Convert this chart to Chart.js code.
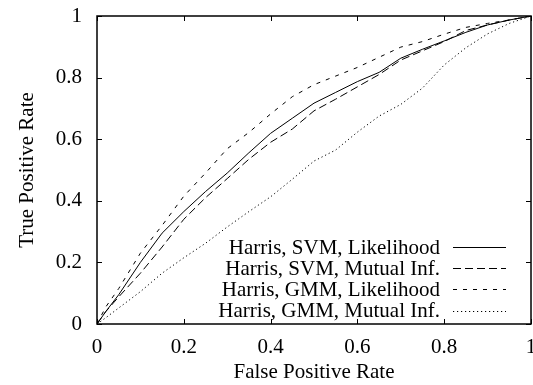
<!DOCTYPE html>
<html>
<head>
<meta charset="utf-8">
<script src="https://cdn.jsdelivr.net/npm/chart.js@4.4.1/dist/chart.umd.min.js"></script>
<style>
html,body{margin:0;padding:0;background:#fff;}
#wrap{width:533px;height:385px;position:relative;}
</style>
</head>
<body>
<div id="wrap"><canvas id="c" width="533" height="385"></canvas></div>
<script>
// ---- data ----
const fpr = [0, 0.02, 0.05, 0.1, 0.15, 0.2, 0.25, 0.3, 0.35, 0.4, 0.45, 0.5, 0.55, 0.6, 0.65, 0.7, 0.75, 0.8, 0.85, 0.9, 0.95, 1];
const svmLikelihood = [0, 0.04, 0.095, 0.2, 0.295, 0.365, 0.43, 0.49, 0.556, 0.619, 0.668, 0.717, 0.752, 0.787, 0.817, 0.863, 0.892, 0.919, 0.947, 0.971, 0.987, 1];
const svmMutualInf = [0, 0.04, 0.088, 0.165, 0.25, 0.34, 0.41, 0.472, 0.535, 0.59, 0.633, 0.692, 0.73, 0.77, 0.81, 0.857, 0.887, 0.917, 0.953, 0.971, 0.987, 1];
const gmmLikelihood = [0, 0.055, 0.115, 0.23, 0.32, 0.415, 0.49, 0.569, 0.622, 0.682, 0.738, 0.777, 0.805, 0.833, 0.866, 0.899, 0.917, 0.941, 0.963, 0.976, 0.987, 1];
const gmmMutualInf = [0, 0.02, 0.052, 0.105, 0.165, 0.215, 0.262, 0.315, 0.365, 0.413, 0.47, 0.529, 0.565, 0.623, 0.675, 0.713, 0.766, 0.841, 0.897, 0.942, 0.976, 1];
const seriesNames = ['Harris, SVM, Likelihood', 'Harris, SVM, Mutual Inf.', 'Harris, GMM, Likelihood', 'Harris, GMM, Mutual Inf.'];
const tickValues = [0, 0.2, 0.4, 0.6, 0.8, 1];
const tickLabels = ['0', '0.2', '0.4', '0.6', '0.8', '1'];
const xTitle = 'False Positive Rate';
const yTitle = 'True Positive Rate';

const FONT = '"Liberation Serif", "Times New Roman", serif';
const FS = 21;

function pts(ys){ return fpr.map((x,i)=>({x:x, y:ys[i]})); }
const styles = [[], [8,4], [4,6], [1.2,2.8]];
const allSeries = [svmLikelihood, svmMutualInf, gmmLikelihood, gmmMutualInf];

const datasets = allSeries.map((ys,i)=>({
  label: seriesNames[i],
  data: pts(ys),
  borderColor: '#000',
  borderWidth: 1,
  borderDash: styles[i],
  pointRadius: 0,
  showLine: true,
  fill: false,
  tension: 0
}));

const framePlugin = {
  id: 'frame',
  afterDraw(chart){
    const ctx = chart.ctx, a = chart.chartArea;
    const xs = chart.scales.x, ys = chart.scales.y;
    ctx.save();
    ctx.strokeStyle = '#000';
    ctx.lineWidth = 1.5;
    ctx.setLineDash([]);
    ctx.strokeRect(a.left, a.top, a.right - a.left, a.bottom - a.top);
    ctx.lineWidth = 1;
    const L = 5;
    ctx.beginPath();
    tickValues.forEach(v=>{
      const px = Math.round(xs.getPixelForValue(v)) + 0.5;
      ctx.moveTo(px, a.bottom); ctx.lineTo(px, a.bottom - L);
      ctx.moveTo(px, a.top); ctx.lineTo(px, a.top + L);
      const py = Math.round(ys.getPixelForValue(v)) + 0.5;
      ctx.moveTo(a.left, py); ctx.lineTo(a.left + L, py);
      ctx.moveTo(a.right, py); ctx.lineTo(a.right - L, py);
    });
    ctx.stroke();
    // legend
    ctx.font = FS + 'px ' + FONT;
    ctx.fillStyle = '#000';
    ctx.textAlign = 'right';
    ctx.textBaseline = 'middle';
    const rows = [77, 56, 35, 13.5];
    chart.data.datasets.forEach((ds,i)=>{
      const y = a.bottom - rows[i];
      ctx.fillText(ds.label, a.right - 91, y + 1);
      ctx.beginPath();
      ctx.setLineDash(ds.borderDash);
      ctx.lineWidth = 1;
      ctx.moveTo(a.right - 78, Math.round(y) + 0.5);
      ctx.lineTo(a.right - 25, Math.round(y) + 0.5);
      ctx.stroke();
    });
    ctx.restore();
  }
};

new Chart(document.getElementById('c'), {
  type: 'scatter',
  data: { datasets },
  plugins: [framePlugin],
  options: {
    responsive: false,
    animation: false,
    devicePixelRatio: 1,
    layout: { padding: { top: 16, right: 2, left: 0, bottom: 0 } },
    plugins: { legend: { display: false }, tooltip: { enabled: false } },
    scales: {
      x: {
        type: 'linear', min: 0, max: 1,
        afterBuildTicks(s){ s.ticks = tickValues.map(v=>({value:v})); },
        afterFit(s){ s.height = 61; s.paddingLeft = 0; s.paddingRight = 0; },
        grid: { display: false, drawTicks: false },
        border: { display: false },
        ticks: { color: '#000', font: { family: FONT, size: FS }, padding: 11, maxRotation: 0,
          callback: (v, i) => tickLabels[i] },
        title: { display: true, text: xTitle, color: '#000', font: { family: FONT, size: FS }, padding: { top: 7, bottom: 0 } }
      },
      y: {
        type: 'linear', min: 0, max: 1,
        afterBuildTicks(s){ s.ticks = tickValues.map(v=>({value:v})); },
        afterFit(s){ s.width = 97; s.paddingTop = 0; s.paddingBottom = 0; },
        grid: { display: false, drawTicks: false },
        border: { display: false },
        ticks: { color: '#000', font: { family: FONT, size: FS }, padding: 15,
          callback: (v, i) => tickLabels[i] },
        title: { display: true, text: yTitle, color: '#000', font: { family: FONT, size: FS }, padding: { top: 15, bottom: 0 } }
      }
    }
  }
});
</script>
</body>
</html>
